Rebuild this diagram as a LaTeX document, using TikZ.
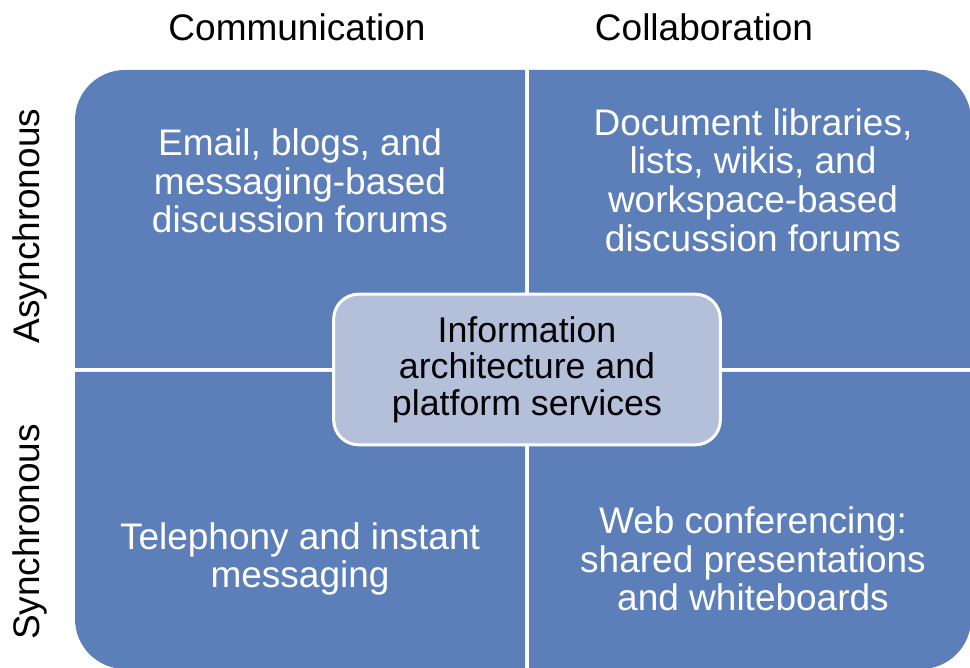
\documentclass[tikz,border=0pt]{standalone}
\usepackage{fontspec}
\setmainfont{Liberation Sans}
\definecolor{quadblue}{RGB}{92,126,185}
\definecolor{hubblue}{RGB}{180,191,218}
\begin{document}
\begin{tikzpicture}[
        x=0.75pt,
        y=0.75pt
    ]
    \tikzset{
        quad/.style = {fill=quadblue},
        quadtext/.style = {align=center, text=white, font=\fontsize{27.75}{29}\selectfont},
        headtext/.style = {align=center, text=black, font=\fontsize{27.75}{29}\selectfont},
        hub/.style = {rectangle, rounded corners=18.75pt, draw=white, line width=2.25pt,
            fill=hubblue, minimum width=290pt, minimum height=113pt, align=center,
            font=\fontsize{26.8}{27.4}\selectfont},
    }
    \clip (0,0) rectangle (970,667);
    % quadrants
    \fill[quad] (75,299) -- (75,547) arc[start angle=180, end angle=90, radius=50] -- (525,597) -- (525,299) -- cycle;
    \fill[quad] (529,299) -- (529,597) -- (921,597) arc[start angle=90, end angle=0, radius=50] -- (971,299) -- cycle;
    \fill[quad] (75,295) -- (75,48) arc[start angle=180, end angle=270, radius=50] -- (525,-2) -- (525,295) -- cycle;
    \fill[quad] (529,295) -- (529,-2) -- (921,-2) arc[start angle=270, end angle=360, radius=50] -- (971,295) -- cycle;
    %
    \node[headtext] at (297,640) (comm) {Communication};
    \node[headtext] at (704,640) (collab) {Collaboration};
    \node[headtext, rotate=90] at (30,441) (async) {Asynchronous};
    \node[headtext, rotate=90] at (30,135) (sync) {Synchronous};
    %
    \node[quadtext] at (300,486) (asynccomm) {Email, blogs, and\\messaging-based\\discussion forums};
    \node[quadtext] at (753,487) (asynccollab) {Document libraries,\\lists, wikis, and\\workspace-based\\discussion forums};
    \node[quadtext] at (300,108) (synccomm) {Telephony and instant\\messaging};
    \node[quadtext] at (753,108) (synccollab) {Web conferencing:\\shared presentations\\and whiteboards};
    %
    \node[hub] at (527,297.5) (platform) {Information\\architecture and\\platform services};
\end{tikzpicture}
\end{document}
